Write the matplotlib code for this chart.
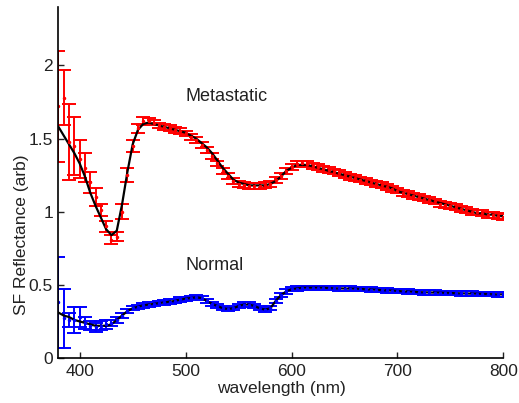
import matplotlib
matplotlib.use('Agg')
import matplotlib.pyplot as plt
import numpy as np

plt.rcParams['font.family'] = ['Liberation Sans', 'DejaVu Sans']

# wavelength grid (nm)
wl = [380, 385, 390, 395, 400, 405, 410, 415, 420, 425, 430, 435, 440, 445, 450,
      455, 460, 465, 470, 475, 480, 485, 490, 495, 500, 505, 510, 515, 520, 525,
      530, 535, 540, 545, 550, 555, 560, 565, 570, 575, 580, 585, 590, 595, 600,
      605, 610, 615, 620, 625, 630, 635, 640, 645, 650, 655, 660, 665, 670, 675,
      680, 685, 690, 695, 700, 705, 710, 715, 720, 725, 730, 735, 740, 745, 750,
      755, 760, 765, 770, 775, 780, 785, 790, 795, 800]

# metastatic: measured + error, and fit
met = [1.72, 1.78, 1.48, 1.45, 1.36, 1.30, 1.20, 1.10, 1.01, 0.90, 0.81, 0.83, 1.00, 1.25, 1.45,
       1.57, 1.62, 1.62, 1.61, 1.59, 1.58, 1.575, 1.56, 1.55, 1.535, 1.51, 1.49, 1.455, 1.42, 1.38,
       1.33, 1.28, 1.245, 1.21, 1.19, 1.18, 1.175, 1.175, 1.175, 1.18, 1.19, 1.215, 1.245, 1.28, 1.305,
       1.325, 1.33, 1.325, 1.315, 1.305, 1.295, 1.285, 1.275, 1.265, 1.25, 1.24, 1.23, 1.22, 1.21, 1.20,
       1.19, 1.18, 1.17, 1.155, 1.145, 1.13, 1.12, 1.11, 1.10, 1.09, 1.08, 1.07, 1.055, 1.045, 1.04,
       1.03, 1.02, 1.01, 1.0, 0.995, 0.99, 0.98, 0.975, 0.97, 0.965]
met_err = [0.38, 0.19, 0.26, 0.20, 0.13, 0.10, 0.07, 0.06, 0.04, 0.04, 0.03, 0.03, 0.05, 0.05, 0.04,
           0.03, 0.025, 0.02, 0.02, 0.02, 0.02, 0.02, 0.02, 0.02, 0.02, 0.02, 0.02, 0.02, 0.02, 0.02,
           0.02, 0.02, 0.02, 0.02, 0.02, 0.02, 0.02, 0.02, 0.02, 0.02, 0.02, 0.02, 0.02, 0.02, 0.02,
           0.02, 0.02, 0.02, 0.02, 0.02, 0.02, 0.02, 0.02, 0.02, 0.02, 0.02, 0.02, 0.02, 0.02, 0.02,
           0.02, 0.02, 0.02, 0.02, 0.02, 0.02, 0.02, 0.02, 0.02, 0.02, 0.02, 0.02, 0.02, 0.02, 0.02,
           0.02, 0.02, 0.02, 0.02, 0.02, 0.02, 0.02, 0.02, 0.02, 0.02]
met_fit = [1.58, 1.52, 1.46, 1.40, 1.33, 1.24, 1.13, 1.04, 0.96, 0.88, 0.84, 0.87, 1.05, 1.27, 1.46,
           1.56, 1.60, 1.61, 1.60, 1.59, 1.58, 1.57, 1.56, 1.55, 1.54, 1.52, 1.50, 1.47, 1.44, 1.40,
           1.35, 1.30, 1.26, 1.22, 1.20, 1.19, 1.18, 1.18, 1.18, 1.18, 1.19, 1.21, 1.24, 1.28, 1.30,
           1.32, 1.32, 1.32, 1.31, 1.30, 1.29, 1.28, 1.27, 1.26, 1.25, 1.24, 1.23, 1.22, 1.21, 1.20,
           1.19, 1.18, 1.17, 1.16, 1.14, 1.13, 1.12, 1.11, 1.10, 1.09, 1.08, 1.07, 1.06, 1.05, 1.04,
           1.03, 1.02, 1.01, 1.00, 0.99, 0.99, 0.98, 0.98, 0.97, 0.97]

# normal
nor = [0.38, 0.27, 0.26, 0.26, 0.28, 0.24, 0.22, 0.21, 0.22, 0.23, 0.24, 0.26, 0.29, 0.32, 0.34,
       0.35, 0.36, 0.365, 0.37, 0.375, 0.38, 0.385, 0.39, 0.40, 0.405, 0.41, 0.415, 0.41, 0.39, 0.37,
       0.355, 0.34, 0.335, 0.34, 0.355, 0.365, 0.365, 0.355, 0.34, 0.33, 0.34, 0.39, 0.43, 0.455, 0.47,
       0.475, 0.48, 0.48, 0.48, 0.48, 0.48, 0.478, 0.477, 0.476, 0.475, 0.474, 0.473, 0.472, 0.47, 0.468,
       0.466, 0.464, 0.462, 0.46, 0.458, 0.456, 0.454, 0.452, 0.45, 0.449, 0.448, 0.447, 0.446, 0.445, 0.444,
       0.443, 0.442, 0.441, 0.44, 0.439, 0.438, 0.437, 0.436, 0.435, 0.435]
nor_err = [0.31, 0.20, 0.05, 0.09, 0.07, 0.04, 0.03, 0.03, 0.03, 0.03, 0.02, 0.02, 0.015, 0.015, 0.015,
           0.015, 0.015, 0.015, 0.015, 0.015, 0.015, 0.015, 0.015, 0.015, 0.015, 0.015, 0.015, 0.015, 0.015, 0.015,
           0.015, 0.015, 0.015, 0.015, 0.015, 0.015, 0.015, 0.015, 0.015, 0.015, 0.015, 0.015, 0.015, 0.015, 0.015,
           0.015, 0.015, 0.015, 0.015, 0.015, 0.015, 0.015, 0.015, 0.015, 0.015, 0.015, 0.015, 0.015, 0.015, 0.015,
           0.015, 0.015, 0.015, 0.015, 0.015, 0.015, 0.015, 0.015, 0.015, 0.015, 0.015, 0.015, 0.015, 0.015, 0.015,
           0.015, 0.015, 0.015, 0.015, 0.015, 0.015, 0.015, 0.015, 0.015, 0.015]
nor_fit = [0.31, 0.29, 0.28, 0.26, 0.25, 0.24, 0.23, 0.22, 0.22, 0.22, 0.23, 0.26, 0.29, 0.32, 0.34,
           0.35, 0.36, 0.365, 0.37, 0.375, 0.38, 0.385, 0.39, 0.40, 0.405, 0.41, 0.415, 0.41, 0.39, 0.37,
           0.355, 0.34, 0.335, 0.34, 0.355, 0.365, 0.365, 0.355, 0.34, 0.33, 0.34, 0.39, 0.43, 0.455, 0.47,
           0.475, 0.48, 0.48, 0.48, 0.48, 0.48, 0.478, 0.477, 0.476, 0.475, 0.474, 0.473, 0.472, 0.47, 0.468,
           0.466, 0.464, 0.462, 0.46, 0.458, 0.456, 0.454, 0.452, 0.45, 0.449, 0.448, 0.447, 0.446, 0.445, 0.444,
           0.443, 0.442, 0.441, 0.44, 0.439, 0.438, 0.437, 0.436, 0.435, 0.435]

fig = plt.figure(figsize=(5.19, 4.03), dpi=100)
ax = fig.add_axes([0.1127, 0.1117, 0.8573, 0.871])

ax.errorbar(wl, met, yerr=met_err, fmt='.', color='red', ms=3, elinewidth=1.4, capsize=5, capthick=1.4)
ax.plot(wl, met_fit, color='black', lw=1.6)
ax.errorbar(wl, nor, yerr=nor_err, fmt='.', color='blue', ms=3, elinewidth=1.4, capsize=5, capthick=1.4)
ax.plot(wl, nor_fit, color='black', lw=1.6)

ax.text(500, 1.79, 'Metastatic', fontsize=13, color='#222222', va='center')
ax.text(500, 0.63, 'Normal', fontsize=13, color='#222222', va='center')

ax.set_xlim(380, 800)
ax.set_ylim(0, 2.4)
ax.set_xticks([400, 500, 600, 700, 800])
ax.set_yticks([0, 0.5, 1, 1.5, 2])
ax.set_yticklabels(['0', '0.5', '1', '1.5', '2'])
ax.tick_params(direction='in', length=4, width=1, labelsize=12.5, colors='#222222', pad=4)
for s in ['top', 'right']:
    ax.spines[s].set_visible(False)
for s in ['left', 'bottom']:
    ax.spines[s].set_linewidth(1.2)
ax.set_xlabel('wavelength (nm)', fontsize=12.5, color='#222222')
ax.set_ylabel('SF Reflectance (arb)', fontsize=12.5, color='#222222')
ax.xaxis.set_label_coords(0.5, -0.066)
ax.yaxis.set_label_coords(-0.067, 0.35)

fig.savefig('out.png', dpi=100)
